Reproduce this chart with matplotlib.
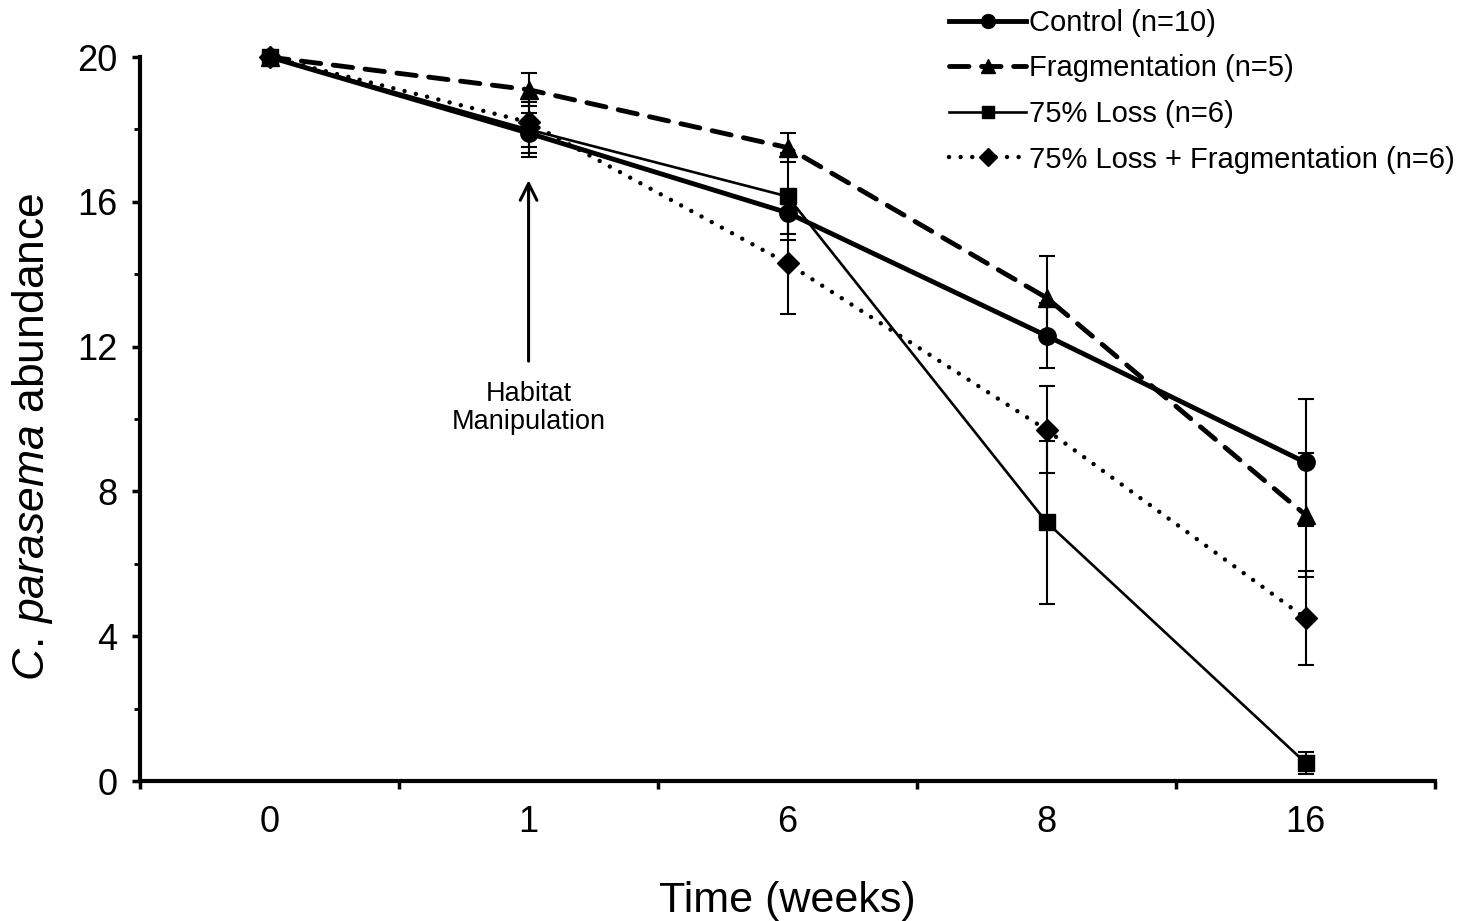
import matplotlib as mpl
import matplotlib.pyplot as plt
import numpy as np

mpl.rcParams.update(
    {
        "font.family": ["Liberation Sans", "DejaVu Sans"],
        "mathtext.fontset": "custom",
        "mathtext.rm": "Liberation Sans",
        "mathtext.it": "Liberation Sans:italic",
        "figure.facecolor": "white",
    }
)

# sampling weeks (categorical positions on the x axis)
weeks = ["0", "1", "6", "8", "16"]

control = [20.0, 17.9, 15.7, 12.3, 8.8]
control_err = [0.0, 0.55, 0.6, 0.9, 1.75]

frag = [20.0, 19.1, 17.5, 13.35, 7.35]
frag_err = [0.0, 0.45, 0.4, 1.15, 1.7]

loss = [20.0, 18.0, 16.15, 7.15, 0.5]
loss_err = [0.0, 0.76, 1.2, 2.25, 0.3]

loss_frag = [20.0, 18.2, 14.3, 9.7, 4.5]
loss_frag_err = [0.0, 0.67, 1.4, 1.2, 1.3]

fig = plt.figure(figsize=(14.65, 9.21), dpi=100)
ax = fig.add_axes([0.0956, 0.152, 0.884, 0.786])

x = np.arange(len(weeks))
common = dict(color="black", ecolor="black", elinewidth=1.5, capsize=5.5,
              capthick=1.5, clip_on=False, dash_capstyle="round")

series = [
    (control, control_err, dict(marker="o", ms=12.5, lw=3.5, ls="-"), "Control (n=10)"),
    (frag, frag_err, dict(marker="^", ms=13, lw=3.5, ls=(0, (4.0, 2.6))),
     "Fragmentation (n=5)"),
    (loss, loss_err, dict(marker="s", ms=11, lw=1.9, ls="-"), "75% Loss (n=6)"),
    (loss_frag, loss_frag_err, dict(marker="D", ms=11, lw=3.2, ls=(0, (0.01, 2.6))),
     "75% Loss + Fragmentation (n=6)"),
]

handles = []
for vals, errs, style, label in series:
    eb = ax.errorbar(x, vals, yerr=errs, label=label, **style, **common)
    for artist in eb.lines[1] + eb.lines[2]:
        artist.set_clip_on(False)
    handles.append(eb[0])

ax.set_xlim(-0.5, 4.5)
ax.set_ylim(0, 20)

ax.set_xticks(x)
ax.set_xticklabels(weeks)
ax.set_xticks(np.arange(-0.5, 5.0, 1.0), minor=True)
ax.tick_params(axis="x", which="major", length=0, pad=17, labelsize=26)
ax.tick_params(axis="x", which="minor", direction="out", length=6, width=2.5)

ax.set_yticks(np.arange(0, 21, 4))
ax.set_yticks(np.arange(2, 20, 4), minor=True)
ax.tick_params(axis="y", which="major", direction="out", length=5.5, width=2.5,
               pad=11, labelsize=26)
ax.tick_params(axis="y", which="minor", direction="out", length=4, width=2.0)

for side in ("top", "right"):
    ax.spines[side].set_visible(False)
for side in ("left", "bottom"):
    ax.spines[side].set_linewidth(3.0)

ax.set_xlabel("Time (weeks)", fontsize=31, labelpad=30)
ax.set_ylabel(r"$C.\,parasema$ abundance", fontsize=32, labelpad=16)
ax.yaxis.label.set_y(0.475)

# timing of the habitat manipulation
ax.annotate(
    "",
    xy=(1, 16.6),
    xytext=(1, 11.6),
    arrowprops=dict(arrowstyle="->", lw=2.2, color="black", mutation_scale=30,
                    shrinkA=0, shrinkB=0),
)
ax.text(1, 10.3, "Habitat\nManipulation", ha="center", va="center",
        fontsize=19.5, linespacing=1.1)

fig.legend(
    handles=handles,
    labels=[s[3] for s in series],
    loc="upper right",
    bbox_to_anchor=(1455 / 1465, 1 - 9 / 921),
    frameon=False,
    fontsize=21,
    markerscale=0.8,
    handlelength=2.65,
    handletextpad=0.1,
    labelspacing=0.6,
    borderpad=0,
    borderaxespad=0,
)

fig.savefig("out.png", dpi=100)
